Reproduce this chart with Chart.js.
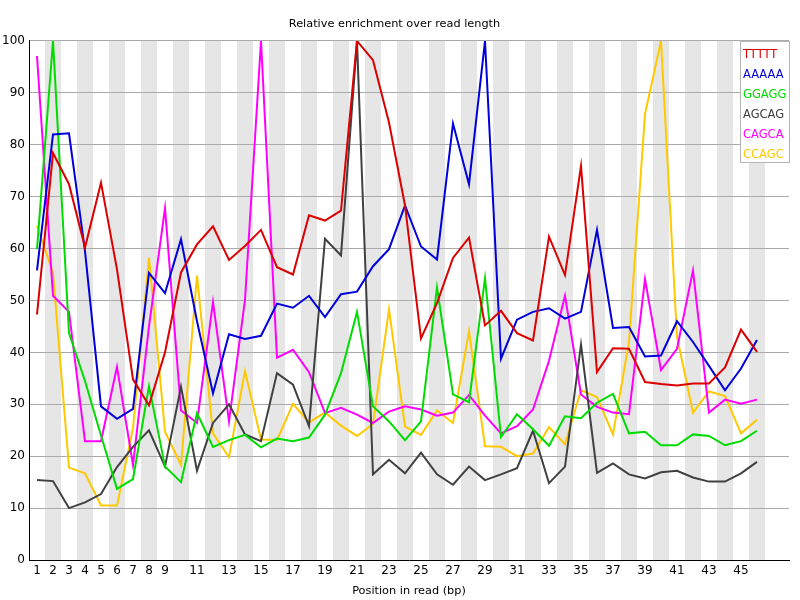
<!DOCTYPE html>
<html>
<head>
<meta charset="utf-8">
<script src="https://cdn.jsdelivr.net/npm/chart.js@4/dist/chart.umd.min.js"></script>
<style>
html, body { margin: 0; padding: 0; background: #fff; }
</style>
</head>
<body>
<canvas id="chart" width="800" height="600"></canvas>
<script>

var positions = [1, 2, 3, 4, 5, 6, 7, 8, 9, 10, 11, 12, 13, 14, 15, 16, 17, 18, 19, 20, 21, 22, 23,
	24, 25, 26, 27, 28, 29, 30, 31, 32, 33, 34, 35, 36, 37, 38, 39, 40, 41, 42, 43, 44, 45, 46];
var xTickLabels = [1, 2, 3, 4, 5, 6, 7, 8, 9, 11, 13, 15, 17, 19, 21, 23, 25, 27, 29, 31, 33, 35, 37, 39, 41, 43, 45];

var kmers = ['TTTTT', 'AAAAA', 'GGAGG', 'AGCAG', 'CAGCA', 'CCAGC'];
var colors = ['rgb(220,0,0)', 'rgb(0,0,220)', 'rgb(0,220,0)', 'rgb(64,64,64)', 'rgb(255,0,255)', 'rgb(255,200,0)'];

var ttttt = [47.3, 78.4, 72.4, 60.2, 72.7, 56.0, 34.8, 29.8, 40.0, 55.4, 60.8, 64.3, 57.8, 60.5, 63.6, 56.4,
	55.0, 66.4, 65.4, 67.3, 100, 96.3, 84.3, 68.3, 42.7, 49.5, 58.2, 62.1, 45.2, 48.0, 43.7, 42.3, 62.3,
	54.9, 75.9, 36.2, 40.8, 40.7, 34.3, 33.9, 33.6, 34.0, 34.0, 37.1, 44.4, 40.1];
var aaaaa = [55.8, 82.0, 82.2, 59.5, 29.6, 27.2, 29.1, 55.3, 51.4, 61.8, 46.0, 32.1, 43.5, 42.6, 43.2, 49.4,
	48.6, 50.9, 46.8, 51.2, 51.7, 56.6, 59.9, 68.3, 60.4, 57.9, 84.1, 72.4, 100, 38.8, 46.3, 47.8, 48.5,
	46.5, 47.8, 63.6, 44.7, 44.9, 39.2, 39.4, 46.0, 42.0, 37.4, 32.7, 36.9, 42.4];
var ggagg = [59.9, 100, 43.7, 34.5, 24.0, 13.7, 15.6, 33.5, 18.0, 15.0, 28.3, 21.8, 23.1, 24.1, 21.7, 23.4,
	22.9, 23.6, 28.0, 36.0, 47.8, 29.6, 26.7, 23.1, 26.7, 52.5, 31.9, 30.4, 54.3, 23.7, 28.1, 25.2, 22.0,
	27.7, 27.3, 30.3, 32.0, 24.4, 24.7, 22.1, 22.1, 24.2, 23.9, 22.1, 22.9, 24.9];
var agcag = [15.4, 15.2, 10.0, 11.1, 12.7, 17.9, 21.8, 25.0, 18.0, 33.4, 17.2, 26.4, 30.0, 24.2, 22.9, 36.0,
	33.8, 25.8, 61.9, 58.7, 100, 16.5, 19.3, 16.7, 20.7, 16.5, 14.5, 18.0, 15.4, 16.5, 17.7, 24.9, 14.8,
	18.0, 41.5, 16.8, 18.6, 16.5, 15.7, 16.9, 17.2, 15.9, 15.1, 15.1, 16.7, 18.9];
var cagca = [97.1, 50.9, 47.8, 22.9, 22.9, 37.2, 18.3, 45.0, 67.8, 28.8, 26.4, 49.7, 26.7, 50.1, 100, 39.0,
	40.5, 36.2, 28.3, 29.3, 28.0, 26.4, 28.6, 29.6, 29.0, 27.8, 28.4, 31.8, 27.8, 24.4, 25.8, 29.0, 38.4,
	50.9, 31.9, 29.5, 28.4, 28.1, 54.1, 36.6, 40.7, 55.8, 28.4, 30.9, 30.1, 30.9];
var ccagc = [64.4, 55.3, 17.8, 16.7, 10.5, 10.5, 25.4, 58.2, 24.7, 18.3, 54.8, 24.4, 19.8, 36.4, 23.2, 23.1,
	30.1, 26.5, 28.4, 25.9, 23.9, 26.2, 48.3, 25.7, 24.1, 28.8, 26.4, 44.1, 21.9, 21.8, 20.0, 20.5, 25.6,
	22.3, 32.7, 31.4, 24.2, 42.0, 85.9, 100, 43.0, 28.4, 32.5, 31.6, 24.4, 27.0];

var series = [ttttt, aaaaa, ggagg, agcag, cagca, ccagc];

var font = 'DejaVu Sans';

// grey stripes behind every second position
var stripes = {
	id: 'stripes',
	beforeDraw: function(c) {
		var a = c.chartArea, xs = c.scales.x, g = c.ctx;
		g.save();
		g.fillStyle = 'rgb(230,230,230)';
		positions.forEach(function(p) {
			if (p % 2 == 0) {
				var x1 = xs.getPixelForValue(p - 0.5);
				var x2 = xs.getPixelForValue(p + 0.5);
				g.fillRect(x1, a.top, x2 - x1, a.bottom - a.top);
			}
		});
		g.restore();
	}
};

// boxed legend with coloured names, top right
var kmerLegend = {
	id: 'kmerLegend',
	afterDraw: function(c) {
		var a = c.chartArea, g = c.ctx;
		var left = a.right - 49, top = a.top;
		g.save();
		g.fillStyle = '#fff';
		g.fillRect(left, top, 50, 122);
		g.strokeStyle = 'rgb(180,180,180)';
		g.lineWidth = 1;
		g.strokeRect(left + 0.5, top + 0.5, 49, 121);
		g.font = '11.5px "' + font + '"';
		g.textBaseline = 'middle';
		c.data.datasets.forEach(function(ds, i) {
			g.fillStyle = ds.borderColor;
			g.fillText(ds.label, left + 3, top + 14 + i * 20);
		});
		g.restore();
	}
};

var ctx = document.getElementById('chart');
var chart = new Chart(ctx, {
	type: 'line',
	data: {
		datasets: kmers.map(function(k, i) {
			return {
				label: k,
				borderColor: colors[i],
				backgroundColor: colors[i],
				borderWidth: 2,
				pointRadius: 0,
				tension: 0,
				data: positions.map(function(p, j) { return {x: p, y: series[i][j]}; })
			};
		})
	},
	options: {
		responsive: false,
		animation: false,
		layout: { padding: { left: 0, right: 11, top: 0, bottom: 0 } },
		plugins: {
			legend: { display: false },
			tooltip: { enabled: false },
			title: {
				display: true,
				text: 'Relative enrichment over read length',
				color: '#000',
				font: { family: font, size: 11.3, weight: 'normal' },
				padding: { top: 17.5, bottom: 9.9 }
			}
		},
		scales: {
			x: {
				type: 'linear',
				min: 0.5,
				max: 48,
				grid: { color: 'rgba(0,0,0,0)', drawTicks: false },
				border: { color: '#000', width: 1 },
				afterBuildTicks: function(s) {
					s.ticks = xTickLabels.map(function(v) { return {value: v}; });
				},
				afterFit: function(s) { s.height = 40; },
				ticks: {
					autoSkip: false,
					maxRotation: 0,
					padding: 4,
					color: '#000',
					font: { family: font, size: 12 }
				},
				title: {
					display: true,
					text: 'Position in read (bp)',
					color: '#000',
					font: { family: font, size: 11.3 },
					padding: { top: 0, bottom: 2 }
				}
			},
			y: {
				min: 0,
				max: 100,
				grid: {
					drawTicks: false,
					color: function(c) { return c.tick && c.tick.value === 0 ? 'rgba(0,0,0,0)' : 'rgb(170,170,170)'; }
				},
				border: { color: '#000', width: 1 },
				afterFit: function(s) { s.width = 29; },
				ticks: {
					stepSize: 10,
					padding: 4,
					color: '#000',
					font: { family: font, size: 12 }
				}
			}
		}
	},
	plugins: [stripes, kmerLegend]
});

</script>
</body>
</html>
